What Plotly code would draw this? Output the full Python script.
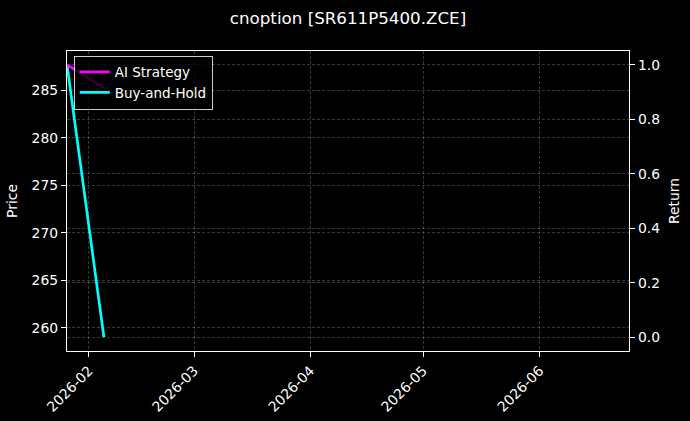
import plotly.graph_objects as go

# ---- data ----
dates = ["2026-01-26 04:00", "2026-02-05 00:00"]
ai_strategy = [1.0, 0.915]
buy_and_hold_price = [287.7, 259.0]
month_ticks = ["2026-02-01", "2026-03-01", "2026-04-01", "2026-05-01", "2026-06-01"]
month_labels = ["2026-02", "2026-03", "2026-04", "2026-05", "2026-06"]
price_ticks = [260, 265, 270, 275, 280, 285]
return_ticks = [0.0, 0.2, 0.4, 0.6, 0.8, 1.0]
return_labels = ["0.0", "0.2", "0.4", "0.6", "0.8", "1.0"]

FONT = "DejaVu Sans"
GRID = "rgba(255,255,255,0.22)"
GDASH = "3px,2px"

fig = go.Figure()
fig.add_trace(go.Scatter(x=dates, y=ai_strategy, name="AI Strategy", mode="lines",
                         line=dict(color="#ff00ff", width=2.7), yaxis="y2"))
fig.add_trace(go.Scatter(x=dates, y=buy_and_hold_price, name="Buy-and-Hold", mode="lines",
                         line=dict(color="#00ffff", width=2.7), yaxis="y"))

fig.update_layout(
    width=690, height=421,
    paper_bgcolor="#000000", plot_bgcolor="#000000",
    font=dict(family=FONT, color="white", size=13.9),
    margin=dict(l=66.5, r=61, t=51, b=69.5, autoexpand=False),
    title=dict(text="cnoption [SR611P5400.ZCE]", x=0.5, xanchor="center", xref="paper",
               yref="container", y=1 - 18 / 421, yanchor="middle",
               font=dict(size=16.7, color="white")),
    showlegend=True,
    legend=dict(x=0.012, y=0.985, xanchor="left", yanchor="top",
                bgcolor="rgba(0,0,0,0.8)", bordercolor="rgba(255,255,255,0.8)", borderwidth=1,
                font=dict(size=13.5, color="white"), tracegroupgap=0, itemwidth=30),
    xaxis=dict(type="date", range=["2026-01-26 04:00", "2026-06-24 20:00"], automargin=False,
               tickmode="array", tickvals=month_ticks, ticktext=month_labels, tickangle=-45,
               showline=True, linecolor="white", linewidth=1.2, mirror=True,
               ticks="outside", ticklen=5, tickcolor="white", tickwidth=1,
               showgrid=True, gridcolor=GRID, griddash=GDASH, gridwidth=0.7,
               zeroline=False, tickfont=dict(size=13.9)),
    yaxis=dict(range=[257.55, 289.13], tickmode="array", tickvals=price_ticks, automargin=False,
               title=dict(text="Price", standoff=10, font=dict(size=13.9)),
               showline=True, linecolor="white", linewidth=1.2,
               ticks="outside", ticklen=5, tickcolor="white", tickwidth=1,
               showgrid=True, gridcolor=GRID, griddash=GDASH, gridwidth=0.7,
               zeroline=False),
    yaxis2=dict(range=[-0.05, 1.05], overlaying="y", side="right", automargin=False,
                tickmode="array", tickvals=return_ticks, ticktext=return_labels,
                title=dict(text="Return", standoff=10, font=dict(size=13.9)),
                showline=True, linecolor="white", linewidth=1.2,
                ticks="outside", ticklen=5, tickcolor="white", tickwidth=1,
                showgrid=True, gridcolor=GRID, griddash=GDASH, gridwidth=0.7,
                zeroline=False),
)

fig.write_html("out.html", config={"displayModeBar": False},
               post_script="document.body.style.margin='0';document.body.style.background='#000';")
